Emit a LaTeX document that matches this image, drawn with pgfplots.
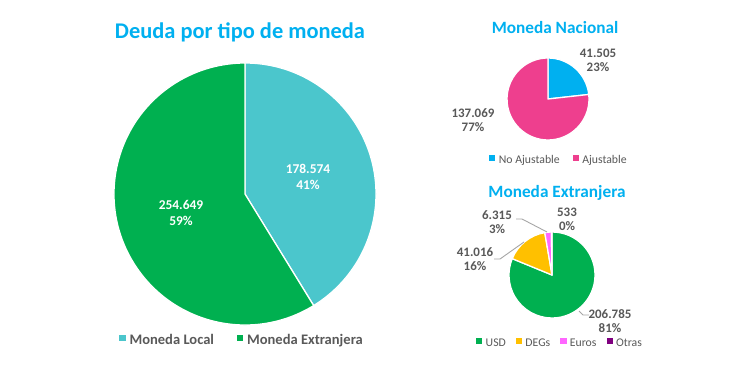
\documentclass[border=0pt]{standalone}
\usepackage{pgfplots}
\pgfplotsset{compat=1.18}
\usepackage{pgfplotstable}
\usepackage{fontspec}
\setmainfont{Carlito}

\definecolor{titleblue}{HTML}{00B0F0}
\definecolor{txtgray}{HTML}{595959}
\definecolor{leadgray}{HTML}{A6A6A6}
\definecolor{localc}{HTML}{4BC6CC}
\definecolor{extc}{HTML}{00B050}
\definecolor{noaj}{HTML}{00B0F0}
\definecolor{aj}{HTML}{EE3F8E}
\definecolor{degc}{HTML}{FFC000}
\definecolor{eurc}{HTML}{FF66FF}
\definecolor{otrc}{HTML}{7F007F}

% Data (values as shown, thousands separator removed)
\pgfplotstableread{
value
178574
254649
}\deuda
\pgfplotstableread{
value
41505
137069
}\nacional
\pgfplotstableread{
value
206785
41016
6315
533
}\extranjera

% cumulative angles (clockwise from 12 o'clock)
\newcommand\computepie[2]{%
  \pgfplotstablegetrowsof{#1}%
  \pgfmathtruncatemacro\pielast{\pgfplotsretval-1}%
  \def\pietot{0}%
  \pgfplotsforeachungrouped \i in {0,...,\pielast}{%
    \pgfplotstablegetelem{\i}{value}\of{#1}%
    \edef\pietot{\fpeval{\pietot+\pgfplotsretval}}%
  }%
  \def\piecum{0}%
  \pgfplotsforeachungrouped \i in {0,...,\pielast}{%
    \pgfplotstablegetelem{\i}{value}\of{#1}%
    \expandafter\xdef\csname pie#2s\i\endcsname{\fpeval{90-360*\piecum/\pietot}}%
    \edef\piecum{\fpeval{\piecum+\pgfplotsretval}}%
    \expandafter\xdef\csname pie#2e\i\endcsname{\fpeval{90-360*\piecum/\pietot}}%
  }%
}
\computepie{\deuda}{A}
\computepie{\nacional}{B}
\computepie{\extranjera}{C}

\newcommand\pieslice[4]{% prefix, index, colour, radius (bp = axis units)
  \filldraw[fill=#3, draw=white, line width=1.3pt, line join=round]
    (axis cs:0,0) -- (axis cs:{#4*cos(\csname pie#1s#2\endcsname)},{#4*sin(\csname pie#1s#2\endcsname)})
    arc[start angle=\csname pie#1s#2\endcsname, end angle=\csname pie#1e#2\endcsname, radius=#4bp] -- cycle;}

\newcommand\sqimg[1]{\addlegendimage{legend image code/.code={\fill[#1] (0bp,-0.5bp) rectangle (5.2bp,4.7bp);}}}

\pgfplotsset{
  pieaxis/.style={scale only axis, anchor=center, hide axis, clip=false,
    width=2*#1 bp, height=2*#1 bp, xmin=-#1, xmax=#1, ymin=-#1, ymax=#1,
    legend cell align=left},
}
\tikzset{
  lbl/.style={align=center, font=\fontsize{13}{14}\selectfont\bfseries, text=txtgray, inner sep=0pt},
  lead/.style={draw=leadgray, line width=0.9pt},
}

\begin{document}
\begin{tikzpicture}[x=1bp,y=1bp]
\path[use as bounding box, fill=white] (0,0) rectangle (730,374);

% ---------- big pie ----------
\begin{axis}[pieaxis=131, at={(245bp,180bp)},
  legend style={at={(axis description cs:0.489,-0.057)}, anchor=center, draw=none, fill=none,
    font=\fontsize{14.6}{16}\selectfont\bfseries, text=txtgray, legend columns=-1,
    /tikz/every odd column/.append style={column sep=2.5bp},
    /tikz/every even column/.append style={column sep=21bp}}]
\pieslice{A}{0}{localc}{131}
\pieslice{A}{1}{extc}{131}
\sqimg{localc}\addlegendentry{Moneda Local}
\sqimg{extc}\addlegendentry{Moneda Extranjera}
\node[font=\fontsize{22.5}{25}\selectfont\bfseries, text=titleblue] at (axis cs:-5,162) {Deuda por tipo de moneda};
\node[lbl, text=white, font=\fontsize{13.5}{16.5}\selectfont\bfseries] at (axis cs:63,17) {178.574\\41\%};
\node[lbl, text=white, font=\fontsize{13.5}{16.5}\selectfont\bfseries] at (axis cs:-64,-19) {254.649\\59\%};
\end{axis}

% ---------- Moneda Nacional ----------
\begin{axis}[pieaxis=41, at={(548bp,275bp)},
  legend style={at={(axis description cs:0.634,-0.244)}, anchor=center, draw=none, fill=none,
    font=\fontsize{11.8}{13}\selectfont, text=txtgray, legend columns=-1,
    /tikz/every odd column/.append style={column sep=2bp},
    /tikz/every even column/.append style={column sep=11bp}}]
\pieslice{B}{0}{noaj}{41}
\pieslice{B}{1}{aj}{41}
\sqimg{noaj}\addlegendentry{No Ajustable}
\sqimg{aj}\addlegendentry{Ajustable}
\node[font=\fontsize{17.3}{20}\selectfont\bfseries, text=titleblue] at (axis cs:7,71) {Moneda Nacional};
\node[lbl] at (axis cs:50,39) {41.505\\23\%};
\node[lbl] at (axis cs:-75,-21) {137.069\\77\%};
\end{axis}

% ---------- Moneda Extranjera ----------
\begin{axis}[pieaxis=43, at={(552bp,99bp)},
  legend style={at={(axis description cs:0.593,-0.291)}, anchor=center, draw=none, fill=none,
    font=\fontsize{11.8}{13}\selectfont, text=txtgray, legend columns=-1,
    /tikz/every odd column/.append style={column sep=2bp},
    /tikz/every even column/.append style={column sep=8bp}}]
\pieslice{C}{0}{extc}{43}
\pieslice{C}{1}{degc}{43}
\pieslice{C}{2}{eurc}{43}
\pieslice{C}{3}{otrc}{43}
\sqimg{extc}\addlegendentry{USD}
\sqimg{degc}\addlegendentry{DEGs}
\sqimg{eurc}\addlegendentry{Euros}
\sqimg{otrc}\addlegendentry{Otras}
\node[font=\fontsize{17.3}{20}\selectfont\bfseries, text=titleblue] at (axis cs:5,82) {Moneda Extranjera};
\draw[lead] (axis cs:-36,56) -- (axis cs:-30,56) -- (axis cs:-5,43);
\draw[lead] (axis cs:-58,16) -- (axis cs:-52,16) -- (axis cs:-28,33);
\draw[lead] (axis cs:27,-36) -- (axis cs:31,-40) -- (axis cs:37,-40);
\node[lbl] at (axis cs:15,56) {533\\0\%};
\node[lbl] at (axis cs:-55,53) {6.315\\3\%};
\node[lbl] at (axis cs:-77,16) {41.016\\16\%};
\node[lbl] at (axis cs:58,-46) {206.785\\81\%};
\end{axis}
\end{tikzpicture}
\end{document}
